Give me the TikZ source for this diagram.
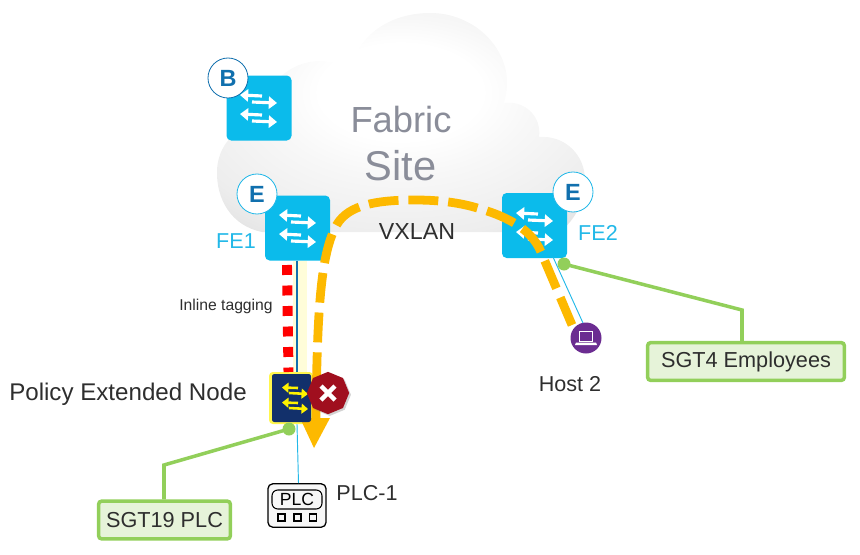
\documentclass[tikz,border=0pt]{standalone}
\usepackage{fontspec}
\setmainfont{Liberation Sans}
\usetikzlibrary{shadows,arrows.meta,shapes.geometric}
\definecolor{swblue}{HTML}{0BBBEB}
\definecolor{navy}{HTML}{12306B}
\definecolor{ecol}{HTML}{1170AE}
\definecolor{grn}{HTML}{92CF5A}
\definecolor{grnfill}{HTML}{E6F3D9}
\definecolor{amber}{HTML}{FDB900}
\definecolor{fab}{HTML}{8A8D99}
\definecolor{fecol}{HTML}{22B8E8}
\definecolor{purp}{HTML}{6B2C91}
\definecolor{txt}{HTML}{2E2E2E}
\definecolor{stopred}{HTML}{A00F1E}
\pgfdeclareradialshading{cloudshade}{\pgfpoint{0bp}{9bp}}{color(0bp)=(white);color(11bp)=(white);color(18bp)=(black!3);color(30bp)=(black!7);color(50bp)=(black!22)}
\tikzset{
 x=0.03cm,y=-0.03cm,
 switchbox/.style={draw=none,fill=swblue,rounded corners=4pt,minimum width=1.95cm,minimum height=1.95cm,inner sep=0,outer sep=0},
 badge/.style={circle,draw=#1,line width=0.7pt,fill=white,minimum size=1.2cm,inner sep=0,text=ecol,font=\fontsize{20}{20}\selectfont\bfseries},
 tagbox/.style={draw=grn,line width=3pt,fill=grnfill,rounded corners=2.5pt,inner sep=0,minimum height=1.13cm,text=txt,font=\fontsize{18.5}{19}\selectfont},
 grnline/.style={draw=grn,line width=3pt},
 blueline/.style={draw=fecol,line width=0.8pt},
 amberdash/.style={draw=amber,line width=7.5pt,dash pattern=on 25.5pt off 8.5pt},
 reddash/.style={draw=red,line width=8.5pt,dash pattern=on 8.5pt off 9pt},
 sarrow/.style={draw=#1,line width=2.7pt,-{Triangle[length=7pt,width=10.5pt]}},
 marrow/.style={draw=#1,line width=2.2pt,-{Triangle[length=5.5pt,width=8.5pt]}},
 lab/.style={text=txt,inner sep=0,font=\fontsize{18.4}{19}\selectfont},
 felab/.style={text=fecol,inner sep=0,font=\fontsize{18.4}{19}\selectfont},
}
\newcommand{\swarrows}[2]{%
 \begin{scope}[shift={(#1)}]
  \draw[sarrow=#2] (3,-12) -- (-19,-13);
  \draw[sarrow=#2] (-7,-6) -- (18,-5);
  \draw[sarrow=#2] (3,7) -- (-19,6);
  \draw[sarrow=#2] (-7,13) -- (18,14);
 \end{scope}}
\begin{document}
\begin{tikzpicture}
\useasboundingbox (0,0) rectangle (860,554);
% cloud
\shade[shading=cloudshade]
 (262,232) .. controls (232,226) and (216,200) .. (217,170)
 .. controls (218,148) and (232,128) .. (262,120)
 .. controls (262,85) and (290,61) .. (320,61)
 .. controls (332,61) and (342,65) .. (350,70)
 .. controls (358,35) and (390,13) .. (430,13)
 .. controls (475,13) and (507,48) .. (507,82)
 .. controls (507,90) and (506,97) .. (504,103)
 .. controls (525,100) and (542,117) .. (539,137)
 .. controls (565,135) and (585,155) .. (585,180)
 .. controls (585,205) and (572,222) .. (560,232) -- cycle;
\node[inner sep=0,text=fab,font=\fontsize{31}{31}\selectfont] (fabric) at (401,120) {Fabric};
\node[inner sep=0,text=fab,font=\fontsize{35.5}{36}\selectfont] (site) at (400.5,166) {Site};
\node[switchbox] (sb) at (259,108) {};
\swarrows{259,108}{white}
\node[badge=ecol] (bb) at (228,78) {B};
% switches
\node[inner sep=0,minimum width=0.42cm,minimum height=3.33cm,fill=yellow!15] (halo) at (300,316) {};
\node[switchbox] (fe1) at (297.5,228) {};
\swarrows{298,228}{white}
\node[badge=fecol] (be1) at (257,194) {E};
\node[switchbox] (fe2) at (534.5,225.5) {};
\swarrows{535,226}{white}
\node[badge=fecol] (be2) at (573,192) {E};
\node[felab] (lfe1) at (236,241) {FE1};
\node[felab] (lfe2) at (598,233) {FE2};
\node[lab,font=\fontsize{19.8}{20}\selectfont] (vx) at (417,232) {VXLAN};
% host
\node[circle,fill=purp,minimum size=0.93cm,inner sep=0] (host) at (586,338) {};
\draw[white,line width=0.5pt] (579.5,331) rectangle (592.5,341);
\fill[white] (576,342.5) -- (596,342.5) -- (597,345) -- (575,345) -- cycle;
\node[lab] (lhost) at (570,384) {Host 2};
% PLC
\node[draw=black,line width=1.1pt,fill=black!3,rounded corners=4pt,minimum width=1.74cm,minimum height=1.3cm,inner sep=0] (plc) at (297,505.5) {};
\node[draw=black,line width=0.9pt,rounded corners=5pt,minimum width=1.5cm,minimum height=0.57cm,inner sep=0,font=\fontsize{15}{15}\selectfont] (plct) at (297,499.5) {PLC};
\foreach \xx in {281.5,297.5,313}{\draw[line width=0.9pt] (\xx-3.5,514) rectangle (\xx+3.5,521);}
\node[lab] (lplc) at (367,493) {PLC-1};
% extended node glow
\node[fill=yellow!70,rounded corners=3pt,minimum width=1.31cm,minimum height=1.56cm,inner sep=0] (pen) at (291,398) {};
% links
\draw[draw=ecol,line width=1.3pt] (fe1.south -| 297,0) -- (pen.north -| 297,0);
\draw[blueline] (pen.south -| 297,0) -- (plc.north -| 298.5,0);
\draw[blueline] (553,257) -- (583,323);
% red dotted
\draw[reddash] (287,265) -- (288.5,372);
% amber path
\coordinate (amberstart) at (572,325);
\draw[amberdash]
 (amberstart) -- (541,252) .. controls (531,228) and (505,215) .. (470,206)
 .. controls (450,201) and (430,200) .. (415,200)
 .. controls (370,200) and (345,207) .. (335,228)
 .. controls (322,255) and (317,300) .. (316,420);
\fill[amber] (300,418) -- (330,418) -- (314,448) -- cycle;
% extended node body
\node[fill=navy,rounded corners=2pt,minimum width=1.17cm,minimum height=1.44cm,inner sep=0] (pen2) at (291.5,398) {};
\begin{scope}[shift={(294,398)}]
  \draw[marrow=yellow] (4,-10) -- (-12,-10.5);
  \draw[marrow=yellow] (-5,-5) -- (14,-4);
  \draw[marrow=yellow] (4,5) -- (-12,4.5);
  \draw[marrow=yellow] (-5,10) -- (14,11);
\end{scope}
\node[regular polygon,regular polygon sides=8,shape border rotate=22.5,fill=stopred,minimum size=1.27cm,inner sep=0,drop shadow={shadow xshift=1.5pt,shadow yshift=-1.5pt,opacity=.35}] (stopsign) at (328,393) {};
\draw[white,line width=3.8pt] (321,386) -- (335,400) (335,386) -- (321,400);
% tags
\node[tagbox,minimum width=5.9cm] (t4) at (746,361.5) {SGT4 Employees};
\node[tagbox,minimum width=3.95cm] (t19) at (164.5,520) {SGT19 PLC};
\coordinate (d1) at (564,264);
\coordinate (d2) at (289,429);
\draw[grnline] (d1) -- (742,310) -- (t4.north -| 742,0);
\draw[grnline] (d2) -- (164,465) -- (t19.north -| 164,0);
\fill[grn] (d1) circle (6.5);
\fill[grn] (d2) circle (6.5);
\node[lab,font=\fontsize{20.6}{21}\selectfont] (pol) at (128,394) {Policy Extended Node};
\node[lab,font=\fontsize{13.4}{14}\selectfont] (inl) at (226,306) {Inline tagging};
\end{tikzpicture}
\end{document}
